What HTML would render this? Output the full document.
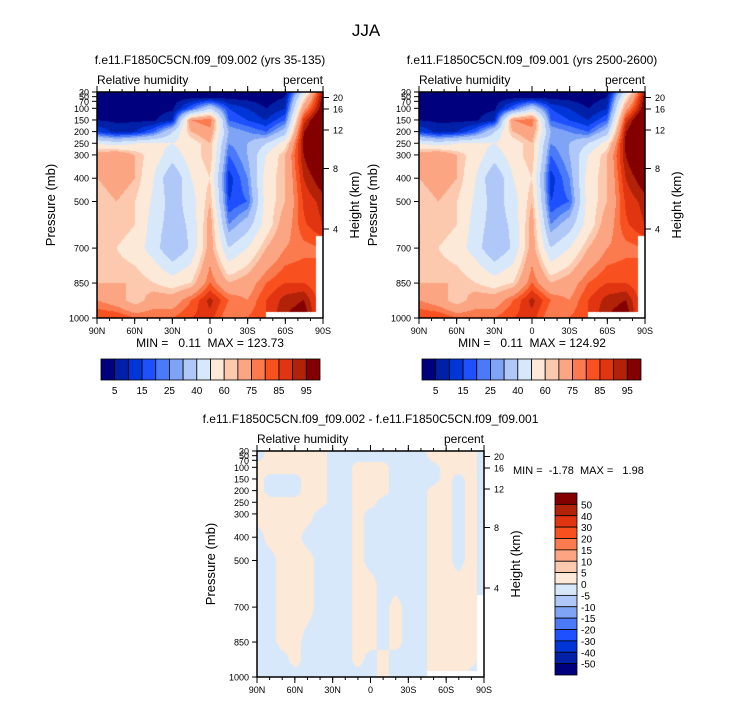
<!DOCTYPE html>
<html><head><meta charset="utf-8"><style>
body{margin:0;background:#fff;width:733px;height:701px;overflow:hidden;position:relative;font-family:"Liberation Sans",sans-serif}
canvas{position:absolute}
svg{position:absolute;left:0;top:0}
text{white-space:pre}
</style></head><body>
<canvas id="c1" style="left:97px;top:92px" width="226" height="226"></canvas>
<canvas id="c2" style="left:419px;top:92px" width="226" height="226"></canvas>
<canvas id="c3" style="left:257px;top:451px" width="227" height="226"></canvas>
<svg id="s" width="733" height="701"></svg>
<script>
const pLevels=[30,50,100,150,200,250,300,400,500,600,700,850,925,1000];
const rhLats=[90,75,60,45,30,15,0,-15,-30,-45,-60,-75,-90];
const rh002=[
[2,2,3,5,15,50,70,65,60,65,65,65,75,85],
[2,2,3,4,8,45,75,70,65,65,60,65,70,85],
[2,2,3,4,10,50,65,65,60,60,55,65,60,80],
[2,2,3,4,20,52,55,50,48,45,45,60,70,80],
[2,2,4,10,40,50,45,30,35,35,30,55,70,80],
[3,3,20,75,65,55,55,50,45,42,42,60,80,85],
[3,3,40,80,72,65,65,60,65,70,70,80,92,88],
[2,3,15,20,30,25,20,12,15,25,40,65,80,75],
[2,3,10,15,25,30,30,25,20,35,50,70,75,80],
[2,2,5,10,20,40,50,55,55,55,65,80,85,85],
[2,5,10,20,35,55,65,65,65,70,75,85,92,95],
[45,55,72,87,95,97,95,90,86,84,78,85,95,100],
[95,98,100,110,110,110,110,100,92,90,80,80,80,80]];
const rh001=rh002;
const rhBounds=[5,10,15,20,25,30,40,50,60,65,75,80,85,90,95];
const colors=['#00007f','#0020a8','#0035d8','#1f50ff','#4a7af8','#80a4f5','#b0c8f8','#d8e8fb','#fde9d8','#fcc9ae','#fba583','#fb7a4e','#f8511f','#e03510','#b22208','#840000'];
const rhTickLabels=['5','15','25','40','60','75','85','95'];
const diffLats=[90,80,70,60,50,40,30,20,10,0,-10,-20,-30,-40,-50,-60,-70,-80,-90];
const diff=[
[-1,-1,1,1,1,1,1,-1,-1,-1,-1,-1,-1,-1],
[1,1,1,-1,-1,1,1,1,-1,-1,-1,-1,-1,-1],
[1,1,1,-1,-1,1,1,1,1,1,1,1,-1,-1],
[1,1,1,-1,-1,1,1,1,1,1,1,1,1,-1],
[1,1,1,1,1,1,1,-1,1,1,1,-1,-1,-1],
[1,1,1,1,1,1,-1,-1,-1,-1,-1,-1,-1,-1],
[-1,-1,-1,-1,-1,-1,-1,-1,-1,-1,-1,-1,-1,-1],
[-1,-1,-1,-1,-1,-1,-1,-1,-1,-1,-1,-1,-1,-1],
[-1,-1,1,1,1,1,1,1,1,1,1,1,1,-1],
[-1,-1,1,1,1,1,-1,-1,-1,1,1,1,-1,-1],
[-1,-1,1,1,1,-1,-1,-1,-1,-1,-1,-1,1,1],
[-1,-1,-1,-1,-1,-1,-1,-1,-1,-1,1,1,-1,-1],
[-1,-1,-1,-1,-1,-1,-1,-1,-1,-1,-1,-1,-1,-1],
[-1,-1,-1,-1,-1,-1,-1,-1,-1,-1,-1,-1,-1,-1],
[1,1,-1,-1,1,1,1,1,1,1,1,1,1,1],
[1,1,1,1,1,1,1,1,1,1,1,1,1,1],
[1,1,1,-1,-1,-1,-1,-1,-1,1,1,1,1,1],
[1,1,1,1,1,1,1,1,1,1,1,1,1,-1],
[-1,-1,-1,-1,-1,-1,-1,-1,-1,-1,-1,-1,-1,-1]];
const diffBounds=[-50,-40,-30,-20,-15,-10,-5,0,5,10,15,20,30,40,50];
const diffLabels=['50','40','30','20','15','10','5','0','-5','-10','-15','-20','-30','-40','-50'];
const pTicks=[30,50,70,100,150,200,250,300,400,500,700,850,1000];
const hTickLabels=[20,16,12,8,4];
const hTickOffsets=[5.5,17,38,76.5,137];
const latTicks=['90N','60N','30N','0','30S','60S','90S'];

function interp(lats,grid,lat,p){
  let i=0;while(i<lats.length-2&&lat<lats[i+1])i++;
  let j=0;while(j<pLevels.length-2&&p>pLevels[j+1])j++;
  let tx=(lats[i]-lat)/(lats[i]-lats[i+1]);tx=Math.max(0,Math.min(1,tx));
  let ty=(p-pLevels[j])/(pLevels[j+1]-pLevels[j]);ty=Math.max(0,Math.min(1,ty));
  const a=grid[i][j],b=grid[i+1][j],c=grid[i][j+1],d=grid[i+1][j+1];
  return a*(1-tx)*(1-ty)+b*tx*(1-ty)+c*(1-tx)*ty+d*tx*ty;
}
function hex(h){return [parseInt(h.slice(1,3),16),parseInt(h.slice(3,5),16),parseInt(h.slice(5,7),16)];}
const rgb=colors.map(hex);
function drawField(id,lats,grid,bounds,missing){
  const cv=document.getElementById(id),ctx=cv.getContext('2d');
  const W=cv.width,H=cv.height,img=ctx.createImageData(W,H);
  for(let y=0;y<H;y++)for(let x=0;x<W;x++){
    const lat=90-180*x/(W-1), p=30+970*y/(H-1);
    const v=interp(lats,grid,lat,p);
    let k=0;while(k<bounds.length&&v>=bounds[k])k++;
    let c=rgb[k];
    if(missing&&((lat<-85&&p>650)||(lat<-45&&p>975)))c=[255,255,255];
    const o=(y*W+x)*4;img.data[o]=c[0];img.data[o+1]=c[1];img.data[o+2]=c[2];img.data[o+3]=255;
  }
  ctx.putImageData(img,0,0);
}
drawField('c1',rhLats,rh002,rhBounds,true);
drawField('c2',rhLats,rh001,rhBounds,true);
drawField('c3',diffLats,diff,diffBounds,true);

const S=document.getElementById('s'),NS='http://www.w3.org/2000/svg';
function el(t,a,txt){const e=document.createElementNS(NS,t);for(const k in a)e.setAttribute(k,a[k]);if(txt!==undefined)e.textContent=txt;S.appendChild(e);return e;}
function text(x,y,s,size,anchor,name,extra){
  const e=el('text',Object.assign({x:x,y:y,'font-size':size,'text-anchor':anchor||'start','font-family':'Liberation Sans, sans-serif',fill:'#000'},extra||{}),s);
  
  
  return e;
}
text(366,36,'JJA',17,'middle','main-title');

function panel(x0,y0,w,h,sub,pre){
  const py=p=>y0+(p-30)/970*h;
  text(x0+w/2,y0-28,sub,12,'middle',pre+'-title');
  text(x0,y0-8,'Relative humidity',12,'start',pre+'-variable-label');
  text(x0+w,y0-8,'percent',12,'end',pre+'-units-label');
  const fr=el('rect',{x:x0,y:y0,width:w,height:h,fill:'none',stroke:'#000','stroke-width':1.5});
  
  
  pTicks.forEach(p=>{
    const y=py(p);
    el('line',{x1:x0-5,x2:x0,y1:y,y2:y,stroke:'#000'});
    text(x0-8,y+3.5,String(p),9,'end',pre+'-y-tick-label');
  });
  hTickLabels.forEach((hk,i)=>{
    const y=y0+hTickOffsets[i];
    el('line',{x1:x0+w,x2:x0+w+6,y1:y,y2:y,stroke:'#000'});
    text(x0+w+10,y+3.5,String(hk),9,'start',pre+'-height-tick-label');
  });
  latTicks.forEach((l,i)=>{
    const x=x0+i*w/6;
    el('line',{x1:x,x2:x,y1:y0+h,y2:y0+h+6,stroke:'#000'});
    el('line',{x1:x,x2:x,y1:y0,y2:y0-6,stroke:'#000'});
    text(x,y0+h+16,l,9,'middle',pre+'-x-tick-label');
  });
  for(let i=1;i<18;i++){const x=x0+i*w/18;
    el('line',{x1:x,x2:x,y1:y0+h,y2:y0+h+3,stroke:'#000'});
    el('line',{x1:x,x2:x,y1:y0,y2:y0-3,stroke:'#000'});}
  const ax=x0-42, cy=y0+h/2;
  text(ax,cy,'Pressure (mb)',13,'middle',pre+'-y-axis-title',{transform:`rotate(-90 ${ax} ${cy})`});
  const hx=x0+w+36;
  text(hx,cy,'Height (km)',13,'middle',pre+'-right-axis-title',{transform:`rotate(-90 ${hx} ${cy})`});
}
panel(97,92,226,226,'f.e11.F1850C5CN.f09_f09.002 (yrs 35-135)','left-panel');
panel(419,92,226,226,'f.e11.F1850C5CN.f09_f09.001 (yrs 2500-2600)','right-panel');
panel(257,451,227,226,'f.e11.F1850C5CN.f09_f09.002 - f.e11.F1850C5CN.f09_f09.001','diff-panel');
text(210,347,'MIN =   0.11  MAX = 123.73',12,'middle','left-min-max');
text(532,347,'MIN =   0.11  MAX = 124.92',12,'middle','right-min-max');
text(513,474,'MIN =  -1.78  MAX =   1.98',11,'start','diff-min-max');

function hbar(x0,y0,w,h,pre){
  const bw=w/16;
  colors.forEach((c,i)=>{const r=el('rect',{x:x0+i*bw,y:y0,width:bw,height:h,fill:c,stroke:'#000','stroke-width':0.8});
    
    });
  rhTickLabels.forEach((l,i)=>text(x0+(2*i+1)*bw,y0+h+14,l,10,'middle',pre+'-label'));
}
hbar(101,359,219,21,'left-colorbar');
hbar(422,359,219,21,'right-colorbar');
(function(){
  const x0=555,y0=493,w=22,h=182,bh=h/16;
  colors.slice().reverse().forEach((c,i)=>{const r=el('rect',{x:x0,y:y0+i*bh,width:w,height:bh,fill:c,stroke:'#000','stroke-width':0.8});
    
    });
  diffLabels.forEach((l,i)=>text(x0+w+4,y0+(i+1)*bh+4,l,10,'start','diff-colorbar-label'));
})();
</script>
</body></html>
